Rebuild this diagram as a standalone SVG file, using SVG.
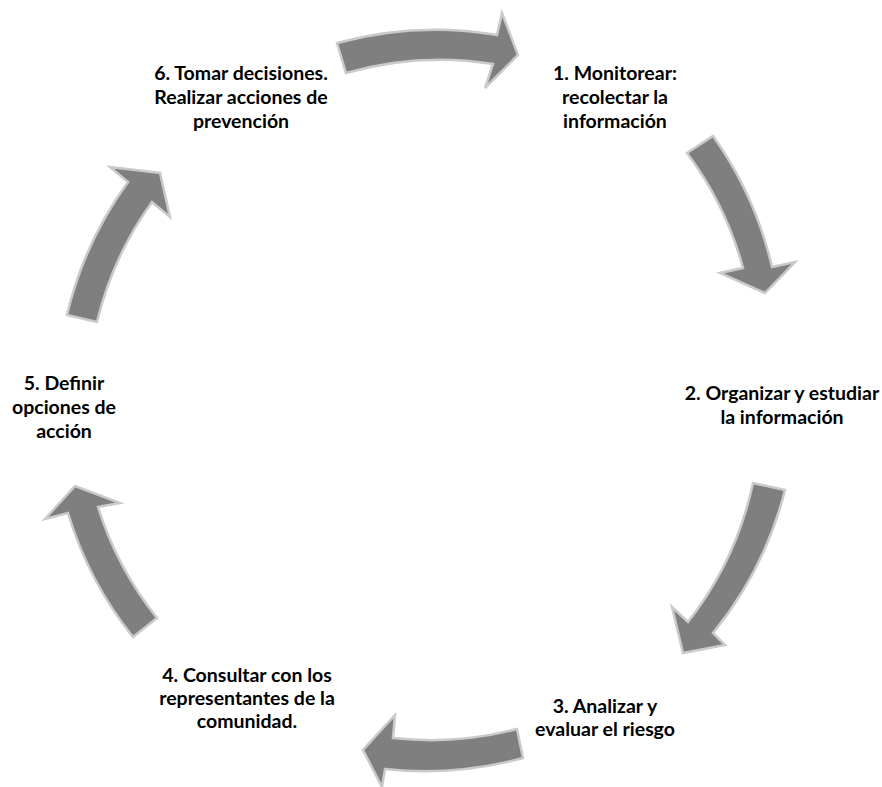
<svg xmlns="http://www.w3.org/2000/svg" width="882" height="787" viewBox="0 0 882 787">
<style>
.arrow{fill:#7f7f7f;stroke:#cacaca;stroke-width:2.5;stroke-linejoin:miter}
.lbl{font-family:Lato,"Liberation Sans",sans-serif;font-weight:bold;font-size:19.5px;fill:#000;text-anchor:middle}
</style>
<rect width="882" height="787" fill="#fff"/>
<g id="connectors">
<path class="arrow" d="M337,43 A370,370 0 0 1 497,35 L502,13 L518,55 L485,88 L493,64 A340,340 0 0 0 346,73 Z"/>
<path class="arrow" d="M713,136 A370,370 0 0 1 772,267 L795,262 L765,293 L720,273 L743,268 A340,340 0 0 0 687,153 Z"/>
<path class="arrow" d="M785,490 A370,370 0 0 1 713,633 L725,645 L683,653 L672,607 L688,622 A340,340 0 0 0 753,483 Z"/>
<path class="arrow" d="M523,758 A370,370 0 0 1 385,769 L382,787 L363,750 L395,715 L393,738 A340,340 0 0 0 517,729 Z"/>
<path class="arrow" d="M133,637 A370,370 0 0 1 68,513 L45,519 L75,486 L120,503 L98,507 A340,340 0 0 0 157,618 Z"/>
<path class="arrow" d="M67,315 A370,370 0 0 1 128,182 L110,167 L160,173 L170,217 L152,202 A340,340 0 0 0 97,322 Z"/>
</g>
<g id="node1">
<text class="lbl" x="615" y="80">1. Monitorear:</text>
<text class="lbl" x="615" y="104">recolectar la</text>
<text class="lbl" x="615" y="128">información</text>
</g>
<g id="node2">
<text class="lbl" x="782" y="400">2. Organizar y estudiar</text>
<text class="lbl" x="782" y="424">la información</text>
</g>
<g id="node3">
<text class="lbl" x="605" y="713">3. Analizar y</text>
<text class="lbl" x="605" y="736">evaluar el riesgo</text>
</g>
<g id="node4">
<text class="lbl" x="247" y="682">4. Consultar con los</text>
<text class="lbl" x="247" y="705">representantes de la</text>
<text class="lbl" x="247" y="728">comunidad.</text>
</g>
<g id="node5">
<text class="lbl" x="64" y="390">5. Definir</text>
<text class="lbl" x="64" y="414">opciones de</text>
<text class="lbl" x="64" y="438">acción</text>
</g>
<g id="node6">
<text class="lbl" x="241" y="80">6. Tomar decisiones.</text>
<text class="lbl" x="241" y="104">Realizar acciones de</text>
<text class="lbl" x="241" y="128">prevención</text>
</g>
</svg>
